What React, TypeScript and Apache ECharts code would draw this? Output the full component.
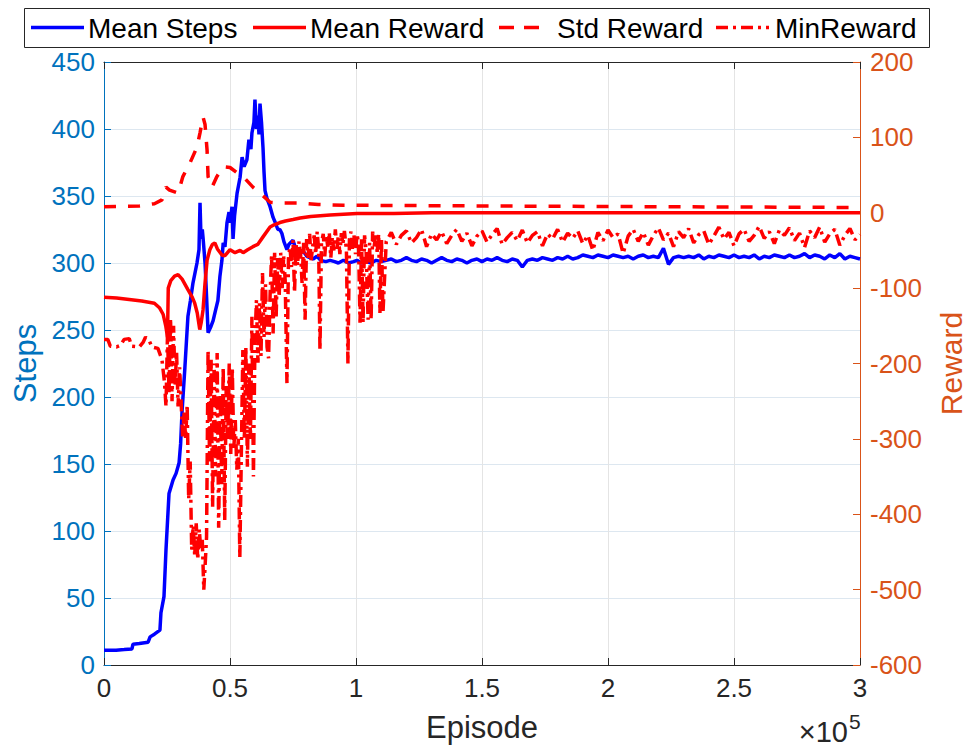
import React, { useEffect, useRef } from "react";
import * as echarts from "echarts";

const FONT = "'Liberation Sans', Arial, Helvetica, sans-serif";
const AXIS_DARK = "#262626";
const LEFT_COLOR = "#0072BD";
const RIGHT_COLOR = "#D95319";
const STEPS_BLUE = "#0000ff";
const REWARD_RED = "#ff0000";
const LINE_W = 3.5;
const DASH = [12, 12];
const DASH_DOT = [12, 5, 3, 5];

// Episodes are stored in thousands.
const stepsEpisodesEarly = [
  0, 4.8, 8, 11.1, 11.5, 14, 17.5, 18.3, 20, 22.2, 22.6, 23.8, 24.6, 25.8, 27.4, 28.6, 29.8, 30.4, 31, 32.1,
  33.3, 34.3, 35.3, 36.9, 37.7, 38.1, 38.5, 39, 39.3, 40.1, 40.7, 41.3, 42.3, 43.3, 44.3, 45.2, 46, 46.8, 47.3, 48,
  48.8, 49.6, 50, 50.8, 51.2, 51.8, 52.8, 54, 54.8, 55.6, 56.7, 57.5, 58.3, 58.7, 59.5, 59.9, 60.5, 61.1, 61.5, 61.9,
  62.5, 63.1, 63.5, 63.9, 64.7, 65.9, 67.1, 68, 69, 69.8, 70.6, 71.4, 72.6, 73.4, 75, 76, 77, 77.8, 79, 80.5,
  81.7, 83, 84.5, 86, 88, 89.7, 91.5, 93, 95, 97, 99, 100.4, 102, 104, 106, 108, 110,
];
const meanStepsEarly = [
  11, 11, 11.5, 12, 15.5, 16, 17, 21, 23, 26, 39, 51, 86, 128, 138, 143, 151, 165, 190, 222,
  260, 272, 285, 300, 310, 345, 318, 325, 319, 300, 275, 248, 252, 257, 265, 272, 290, 302, 315, 312,
  330, 338, 330, 342, 318, 335, 352, 364, 379, 372, 377, 392, 385, 397, 405, 422, 400, 410, 396, 419,
  405, 386, 368, 354, 348, 342, 334, 330, 325, 325, 322, 316, 310, 314, 317, 311, 308, 307, 309, 305,
  304, 303, 305, 302, 301, 302, 301, 300, 302, 300, 301, 302, 300, 301, 300, 302, 301,
];

// Late-training sampling grid (thousands of episodes), shared by the two noisy series.
const lateEpisodes = Array.from({ length: 95 }, (_, i) => 112 + 2 * i);
const meanStepsLate = [
  302, 303, 301, 302, 304, 302, 301, 303, 302, 300,
  302, 304, 302, 301, 303, 302, 300, 302, 303, 301,
  303, 302, 304, 302, 301, 303, 302, 297, 302, 303,
  302, 304, 303, 302, 304, 303, 305, 303, 304, 306,
  305, 304, 306, 305, 304, 306, 305, 304, 305, 303,
  305, 306, 304, 305, 304, 311, 299, 304, 305, 304,
  305, 304, 306, 303, 305, 304, 306, 305, 304, 306,
  304, 305, 304, 306, 303, 305, 304, 306, 305, 304,
  306, 304, 305, 307, 304, 306, 305, 303, 306, 304,
  307, 303, 305, 304, 303,
];

const meanRewardEpisodes = [
  0, 5, 10, 15, 20, 22, 23.5, 24.5, 25.2, 25.5, 26.5, 28, 29.4, 31, 33.3, 35, 36, 37, 38, 38.6,
  39.3, 40.1, 40.9, 42, 43, 44, 45, 46.8, 48, 50, 52, 54, 55.2, 57, 59.1, 61, 63.1, 65.9, 67.5, 69.8,
  72, 75, 77.8, 82, 89.7, 100.4, 115, 130, 200, 300,
];
const meanReward = [
  -112, -113, -115, -117, -120, -126, -135, -150, -165, -100, -90, -84, -82, -88, -102, -112, -120, -133, -155, -145,
  -129, -93, -63, -49, -42, -40, -48, -56, -57, -49, -53, -50, -53, -49, -45, -42, -32, -19, -16, -13,
  -11, -9, -7, -5, -3, -1, -1, 0, 0, 0,
];

const stdRewardEpisodes = [
  0, 14, 20, 23, 24.6, 26, 29.4, 31.3, 34.1, 36.9, 38.1, 39.3, 40.1, 40.9, 41.3, 42.9, 44.8, 47.2, 50, 52.8,
  55.2, 59.1, 61.9, 65.9, 69.8, 77, 85, 95, 150, 220, 300,
];
const stdReward = [
  8, 9, 12, 17, 34, 30, 26, 48, 66, 87, 106, 127, 117, 83, 48, 34, 48, 61, 60, 53,
  48, 34, 26, 14, 13, 13, 11, 10, 9, 8, 7,
];

const minRewardEpisodesEarly = [
  0, 1.5, 2.5, 5, 6.5, 8, 10, 11, 14, 15.5, 16.5, 18, 19, 21.4, 23, 24, 24.6, 25.2, 25.8, 26.4,
  27, 27.6, 28.2, 28.8, 29.4, 30, 30.6, 31.2, 31.8, 32.4, 33, 33.6, 34.2, 34.8, 35.4, 36, 36.6, 37.2, 37.8, 38.4,
  39, 39.6, 40.1, 40.7, 41.3, 41.9, 42.5, 43.1, 43.7, 44.3, 44.9, 45.5, 46.1, 46.7, 47.3, 47.9, 48.5, 49.1, 49.7, 50.3,
  50.9, 51.5, 52.1, 52.7, 53.3, 53.9, 54.5, 55.1, 55.7, 56.3, 56.9, 57.5, 58.1, 58.7, 59.3, 59.9, 60.5, 61.1, 61.7, 62.3,
  62.9, 63.5, 64.1, 64.7, 65.3, 65.9, 66.5, 67.1, 67.7, 68.3, 68.9, 69.5, 70.1, 70.7, 71.3, 71.9, 72.6, 73.2, 73.8, 74.4,
  75, 75.6, 76.2, 76.8, 77.4, 78, 78.6, 79.2, 79.8, 80.4, 81, 81.6, 82.2, 82.8, 83.4, 84, 84.6, 85.2, 85.7, 86.3,
  87, 87.6, 88.2, 88.8, 89.4, 90, 90.6, 91.2, 91.8, 92.4, 93, 93.6, 94.2, 94.8, 95.4, 96.2, 96.8, 97.4, 98, 98.6,
  99.2, 99.8, 100.4, 101, 101.6, 102.2, 102.8, 103.4, 104, 104.8, 105.4, 106, 106.6, 107.2, 107.8, 108.4, 109, 109.5, 110.1, 110.7,
];
const minRewardEarly = [
  -168, -168, -177, -178, -176, -168, -167, -177, -178, -172, -165, -170, -178, -180, -195, -225, -257, -160, -240, -140,
  -250, -150, -230, -185, -257, -205, -250, -297, -265, -300, -255, -380, -330, -447, -415, -455, -412, -460, -420, -447,
  -434, -500, -470, -430, -182, -330, -195, -390, -200, -350, -186, -418, -240, -360, -205, -408, -230, -300, -200, -320,
  -205, -314, -275, -341, -300, -457, -320, -182, -300, -178, -337, -200, -300, -138, -350, -170, -116, -199, -120, -190,
  -80, -165, -95, -178, -193, -110, -55, -160, -53, -140, -60, -112, -53, -100, -58, -90, -226, -60, -45, -72,
  -36, -106, -40, -70, -38, -55, -93, -40, -142, -35, -60, -28, -63, -45, -30, -55, -25, -50, -182, -40,
  -28, -58, -30, -45, -26, -60, -32, -50, -22, -48, -30, -55, -27, -42, -24, -50, -200, -35, -25, -48,
  -30, -55, -28, -40, -146, -35, -146, -30, -50, -142, -40, -142, -25, -45, -30, -52, -28, -133, -35, -133,
];
const minRewardLate = [
  -38, -26, -42, -30, -24, -40, -33, -22, -45, -28,
  -36, -25, -41, -30, -22, -38, -27, -44, -31, -24,
  -39, -29, -21, -42, -33, -26, -37, -23, -40, -30,
  -25, -44, -28, -35, -22, -39, -27, -34, -24, -41,
  -30, -50, -26, -37, -23, -33, -28, -54, -31, -22,
  -38, -26, -43, -30, -20, -36, -27, -45, -25, -33,
  -21, -40, -29, -24, -42, -31, -19, -35, -26, -44,
  -28, -22, -38, -30, -18, -34, -25, -41, -23, -30,
  -20, -37, -27, -46, -24, -33, -19, -39, -28, -22,
  -43, -30, -21, -36, -29,
];

const xTickValues = [0, 0.5, 1, 1.5, 2, 2.5, 3];

// Legend entries: name, colour, dash pattern, sample line start/length, label start.
const legendNames = ["Mean Steps", "Mean Reward", "Std Reward", "MinReward"];
const legendColors = [STEPS_BLUE, REWARD_RED, REWARD_RED, REWARD_RED];
const legendDashes: (number[] | null)[] = [null, null, [15, 10], DASH_DOT];
const legendLineX = [31, 253, 499, 716];
const legendLineLen = [53, 53, 40, 53];
const legendTextX = [88, 310, 557, 775];

const toPairs = (ks: number[], vals: number[]) => ks.map((k, i) => [k * 1000, vals[i]]);

const stepsData = toPairs(stepsEpisodesEarly.concat(lateEpisodes), meanStepsEarly.concat(meanStepsLate));
const meanRewardData = toPairs(meanRewardEpisodes, meanReward);
const stdRewardData = toPairs(stdRewardEpisodes, stdReward);
const minRewardData = toPairs(minRewardEpisodesEarly.concat(lateEpisodes), minRewardEarly.concat(minRewardLate));

function legendGraphics(): any[] {
  const items: any[] = [
    {
      type: "rect",
      shape: { x: 24.5, y: 8.5, width: 905, height: 39 },
      style: { fill: "#ffffff", stroke: AXIS_DARK, lineWidth: 1 },
      z: 100,
    },
  ];
  legendNames.forEach((name, i) => {
    const dash = legendDashes[i];
    items.push({
      type: "line",
      shape: { x1: legendLineX[i], y1: 27.5, x2: legendLineX[i] + legendLineLen[i], y2: 27.5 },
      style: {
        stroke: legendColors[i],
        lineWidth: LINE_W,
        lineDash: dash ? dash : undefined,
        lineCap: "butt",
      },
      z: 101,
    });
    items.push({
      type: "text",
      x: legendTextX[i],
      y: 28,
      style: {
        text: name,
        font: `28px ${FONT}`,
        fill: "#000000",
        align: "left",
        verticalAlign: "middle",
        textAlign: "left",
        textVerticalAlign: "middle",
      },
      z: 101,
    });
  });
  return items;
}

function buildOption(): echarts.EChartsOption {
  const xAxisBase = {
    type: "value" as const,
    min: 0,
    max: 300000,
    interval: 50000,
    axisLine: { show: true, onZero: false, lineStyle: { color: AXIS_DARK, width: 1 } },
    axisTick: { show: true, inside: true, length: 7, lineStyle: { color: AXIS_DARK } },
  };
  return {
    animation: false,
    backgroundColor: "#ffffff",
    textStyle: { fontFamily: FONT },
    grid: {
      left: 104,
      right: 108,
      top: 62,
      bottom: 87,
      containLabel: false,
      outerBoundsMode: "none",
    } as any,
    xAxis: [
      {
        ...xAxisBase,
        position: "bottom",
        name: "Episode",
        nameLocation: "middle",
        nameGap: 47,
        nameTextStyle: { fontSize: 31, color: AXIS_DARK, fontFamily: FONT },
        axisLabel: {
          fontSize: 26,
          color: AXIS_DARK,
          margin: 10,
          fontFamily: FONT,
          formatter: (v: number) => {
            const t = xTickValues.find((x) => Math.abs(x * 1e5 - v) < 1);
            return t === undefined ? "" : String(t);
          },
        },
        splitLine: { show: true, lineStyle: { color: "#e4e4e4", width: 1 } },
      },
      {
        ...xAxisBase,
        position: "top",
        axisLabel: { show: false },
        splitLine: { show: false },
      },
    ],
    yAxis: [
      {
        type: "value",
        position: "left",
        min: 0,
        max: 450,
        interval: 50,
        name: "Steps",
        nameLocation: "middle",
        nameGap: 58,
        nameTextStyle: { fontSize: 31, color: LEFT_COLOR, fontFamily: FONT },
        axisLine: { show: true, onZero: false, lineStyle: { color: LEFT_COLOR, width: 1 } },
        axisTick: { show: true, inside: true, length: 7, lineStyle: { color: LEFT_COLOR } },
        axisLabel: { fontSize: 26, color: LEFT_COLOR, margin: 9, fontFamily: FONT },
        splitLine: { show: true, lineStyle: { color: "#dde7f0", width: 1 } },
      },
      {
        type: "value",
        position: "right",
        min: -600,
        max: 200,
        interval: 100,
        name: "Reward",
        nameLocation: "middle",
        nameGap: 76,
        nameRotate: 90,
        nameTextStyle: { fontSize: 30, color: RIGHT_COLOR, fontFamily: FONT },
        axisLine: { show: true, onZero: false, lineStyle: { color: RIGHT_COLOR, width: 1 } },
        axisTick: { show: true, inside: true, length: 7, lineStyle: { color: RIGHT_COLOR } },
        axisLabel: { fontSize: 26, color: RIGHT_COLOR, margin: 10, fontFamily: FONT },
        splitLine: { show: false },
      },
    ],
    series: [
      {
        name: "Mean Steps",
        type: "line",
        xAxisIndex: 0,
        yAxisIndex: 0,
        data: stepsData,
        showSymbol: false,
        symbol: "none",
        color: STEPS_BLUE,
        lineStyle: { color: STEPS_BLUE, width: LINE_W },
        z: 2,
      },
      {
        name: "Mean Reward",
        type: "line",
        xAxisIndex: 0,
        yAxisIndex: 1,
        data: meanRewardData,
        showSymbol: false,
        symbol: "none",
        color: REWARD_RED,
        lineStyle: { color: REWARD_RED, width: LINE_W },
        z: 3,
      },
      {
        name: "Std Reward",
        type: "line",
        xAxisIndex: 0,
        yAxisIndex: 1,
        data: stdRewardData,
        showSymbol: false,
        symbol: "none",
        color: REWARD_RED,
        lineStyle: { color: REWARD_RED, width: LINE_W, type: DASH },
        z: 3,
      },
      {
        name: "MinReward",
        type: "line",
        xAxisIndex: 0,
        yAxisIndex: 1,
        data: minRewardData,
        showSymbol: false,
        symbol: "none",
        color: REWARD_RED,
        lineStyle: { color: REWARD_RED, width: LINE_W, type: DASH_DOT },
        z: 3,
      },
    ],
    graphic: [
      ...legendGraphics(),
      {
        type: "text",
        x: 848,
        y: 732,
        style: {
          text: "×10",
          font: `29px ${FONT}`,
          fill: AXIS_DARK,
          align: "right",
          verticalAlign: "middle",
          textAlign: "right",
          textVerticalAlign: "middle",
        } as any,
      },
      {
        type: "text",
        x: 849,
        y: 721,
        style: {
          text: "5",
          font: `21px ${FONT}`,
          fill: AXIS_DARK,
          align: "left",
          verticalAlign: "middle",
          textAlign: "left",
          textVerticalAlign: "middle",
        } as any,
      },
    ],
  };
}

export default function App() {
  const ref = useRef<HTMLDivElement>(null);
  useEffect(() => {
    if (!ref.current) return;
    const chart = echarts.init(ref.current, null, { renderer: "svg", width: 968, height: 752 });
    chart.setOption(buildOption());
    return () => chart.dispose();
  }, []);
  return (
    <div
      ref={ref}
      style={{ position: "fixed", left: 0, top: 0, width: 968, height: 752, background: "#ffffff" }}
    />
  );
}
